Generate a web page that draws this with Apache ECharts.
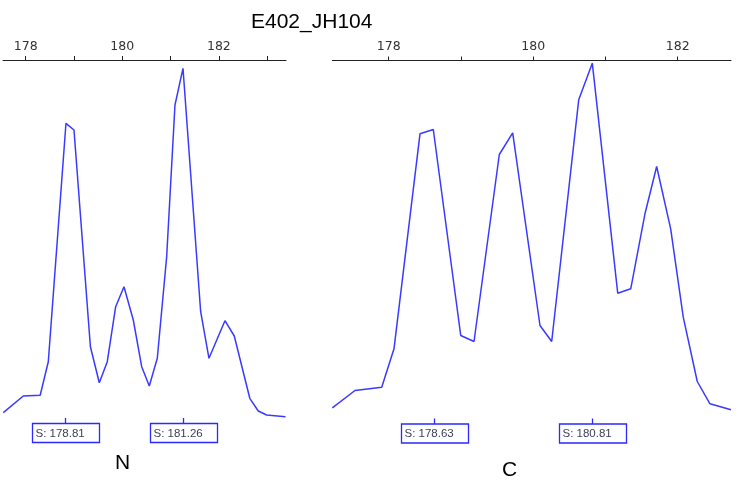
<!DOCTYPE html>
<html><head><meta charset="utf-8">
<script src="https://cdn.jsdelivr.net/npm/echarts@6/dist/echarts.min.js"></script>
<style>html,body{margin:0;padding:0;background:#fff}#c{width:749px;height:485px}</style>
</head><body><div id="c"></div>
<script>
// ---- data ----
const titleText = 'E402_JH104';
const panelNames = ['N', 'C'];
const tickValues = [178, 179, 180, 181, 182, 183];
const tickLabelValues = [178, 180, 182];
const traceN = [
  [177.536, 7.3], [177.95, 24], [178.30, 24.7], [178.468, 58.3], [178.834, 296.7],
  [179.0, 290], [179.34, 73.3], [179.524, 37.3], [179.689, 58.3], [179.863, 113.3],
  [180.035, 133.3], [180.228, 100], [180.402, 53.3], [180.559, 34], [180.725, 61.7],
  [180.919, 163.3], [181.091, 315], [181.257, 351.7], [181.623, 108.3], [181.795, 61.7],
  [182.126, 99.3], [182.319, 84], [182.64, 21.7], [182.816, 9], [182.988, 5], [183.38, 3.3]
];
const traceC = [
  [177.219, 12.7], [177.533, 30], [177.903, 33.3], [178.073, 71.7], [178.433, 286.7],
  [178.617, 291], [178.997, 85], [179.181, 79], [179.531, 266], [179.716, 287.7],
  [180.094, 95], [180.256, 79], [180.63, 320.7], [180.818, 357.3], [181.17, 127.3],
  [181.35, 131.7], [181.547, 206.7], [181.709, 254], [181.903, 191.7], [182.077, 103.3],
  [182.271, 39], [182.447, 16.7], [182.738, 10.7]
];
const peaksN = [178.81, 181.26];
const peaksC = [178.63, 180.81];
const rangeN = [177.53, 183.39];
const rangeC = [177.219, 182.738];

// ---- chart ----
const chart = echarts.init(document.getElementById('c'), null, {renderer: 'canvas'});
const lineColor = '#3a3aff';

function xAxisFor(i, range) {
  return {
    type: 'value', gridIndex: i, position: 'top', min: range[0], max: range[1],
    splitLine: {show: false},
    axisLine: {show: true, onZero: false, lineStyle: {color: '#222', width: 1}},
    axisTick: {show: true, length: 4, inside: false, customValues: tickValues, lineStyle: {color: '#222'}},
    axisLabel: {show: true, customValues: tickLabelValues, margin: 7, color: '#333',
      fontFamily: 'DejaVu Sans', fontSize: 12.5}
  };
}
function yAxisFor(i) {
  return {type: 'value', gridIndex: i, min: 0, max: 360, show: false};
}
function peakSeries(i, peaks) {
  return {
    type: 'custom', xAxisIndex: i, yAxisIndex: i, silent: true, z: 5,
    data: peaks.map(v => [v, 0]),
    renderItem: function (params, api) {
      const v = api.value(0);
      const p = api.coord([v, 0]);
      const x = Math.round(p[0]) + 0.5;
      const y = p[1];
      const w = 67, h = 19;
      const bx = Math.round(x - w / 2) + 0.5;
      return {
        type: 'group',
        children: [
          {type: 'line', shape: {x1: x, y1: y - 2, x2: x, y2: y + 3.5},
            style: {stroke: '#2a2aff', lineWidth: 1.3}},
          {type: 'rect', shape: {x: bx, y: y + 3.5, width: w, height: h},
            style: {fill: '#fff', stroke: '#2a2aff', lineWidth: 1.3}},
          {type: 'text', x: bx + 3, y: y + 3.5 + h / 2 + 0.5,
            style: {text: 'S: ' + v.toFixed(2), fill: '#3a3f55', fontSize: 11.5,
              fontFamily: 'Liberation Sans', textVerticalAlign: 'middle', textAlign: 'left'}}
        ]
      };
    }
  };
}

chart.setOption({
  animation: false,
  backgroundColor: '#fff',
  title: [
    {text: titleText, left: 246, top: 7, textStyle: {fontSize: 21, fontWeight: 'normal', color: '#000', fontFamily: 'Liberation Sans'}},
    {text: panelNames[0], left: 110, top: 448, textStyle: {fontSize: 21, fontWeight: 'normal', color: '#000', fontFamily: 'Liberation Sans'}},
    {text: panelNames[1], left: 497, top: 455, textStyle: {fontSize: 21, fontWeight: 'normal', color: '#000', fontFamily: 'Liberation Sans'}}
  ],
  grid: [
    {left: 3, width: 283, top: 60, height: 360},
    {left: 332.3, width: 398.7, top: 60.5, height: 360}
  ],
  xAxis: [xAxisFor(0, rangeN), xAxisFor(1, rangeC)],
  yAxis: [yAxisFor(0), yAxisFor(1)],
  series: [
    {type: 'line', xAxisIndex: 0, yAxisIndex: 0, data: traceN, symbol: 'none', smooth: false,
      lineStyle: {color: lineColor, width: 1.5}},
    {type: 'line', xAxisIndex: 1, yAxisIndex: 1, data: traceC, symbol: 'none', smooth: false,
      lineStyle: {color: lineColor, width: 1.5}},
    peakSeries(0, peaksN),
    peakSeries(1, peaksC)
  ]
});
</script>
</body></html>
